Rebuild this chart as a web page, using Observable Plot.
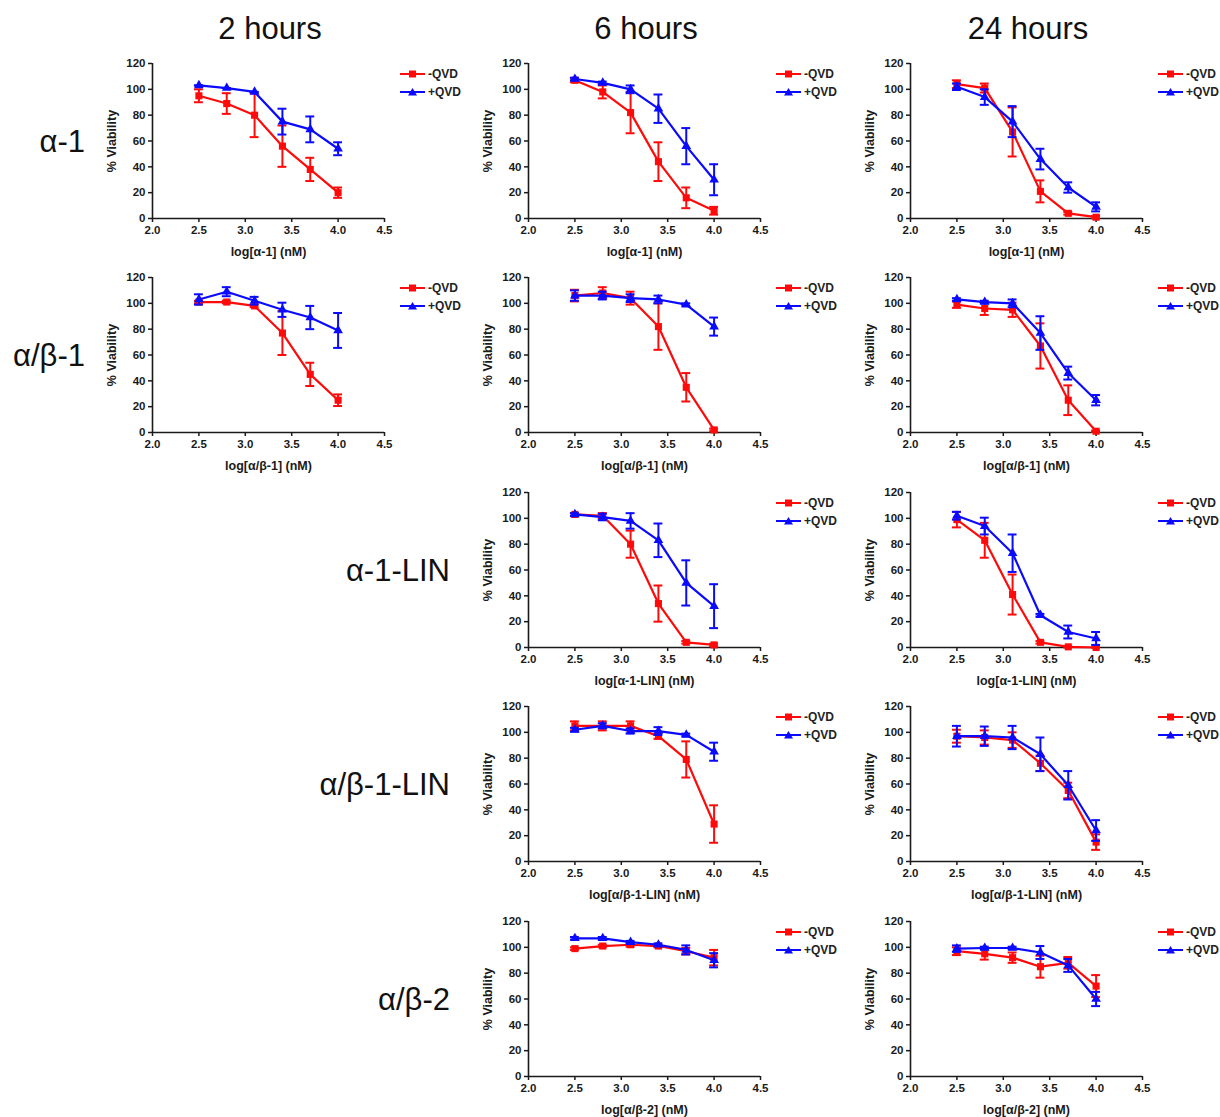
<!DOCTYPE html>
<html><head><meta charset="utf-8">
<script src="https://cdn.jsdelivr.net/npm/d3@7"></script>
<script src="https://cdn.jsdelivr.net/npm/@observablehq/plot@0.6"></script>
<style>
body{margin:0;background:#fff;font-family:"Liberation Sans",Arial,sans-serif;}
#root{position:relative;width:1220px;height:1117px;overflow:hidden;}
.panel{position:absolute;}
.coltitle{position:absolute;font-size:31px;line-height:31px;transform:translateX(-50%);white-space:nowrap;color:#111;}
.rowlabel{position:absolute;font-size:31px;line-height:31px;white-space:nowrap;transform:translate(-100%,-50%);color:#111;}
.legend{position:absolute;font-size:12px;font-weight:bold;color:#222;}
.legend div{display:flex;align-items:center;height:18px;}
.legend svg{margin-right:3px;}
g[aria-label="x-axis label"] text, g[aria-label="y-axis label"] text{font-size:12.5px;}
</style></head><body><div id="root"></div>
<script>
const doses = [2.5, 2.8, 3.1, 3.4, 3.7, 4.0];
const xTicks = [2.0, 2.5, 3.0, 3.5, 4.0, 4.5];
const yTicks = [0, 20, 40, 60, 80, 100, 120];
const times = ["2 hours", "6 hours", "24 hours"];
const compounds = ["α-1", "α/β-1", "α-1-LIN", "α/β-1-LIN", "α/β-2"];
const series = ["-QVD", "+QVD"];
const seriesColors = ["#ff0a0a", "#0a0aff"];
const seriesSymbols = ["square", "triangle"];

// α-1, 2 h
const a1_2h_minus = [95, 89, 80, 56, 38, 20];
const a1_2h_minusErr = [5, 8, 17, 16, 9, 4];
const a1_2h_plus = [103, 101, 98, 75, 69, 54];
const a1_2h_plusErr = [0, 0, 0, 10, 10, 5];
// α-1, 6 h
const a1_6h_minus = [107, 98, 82, 44, 16, 6];
const a1_6h_minusErr = [1.5, 5, 16, 15, 8, 3];
const a1_6h_plus = [108, 105, 100, 85, 56, 30];
const a1_6h_plusErr = [1, 1, 3, 11, 14, 12];
// α-1, 24 h
const a1_24h_minus = [104, 101, 67, 21, 4, 1];
const a1_24h_minusErr = [3, 3.5, 19, 8.5, 1, 1];
const a1_24h_plus = [102, 94, 75, 46, 24, 9];
const a1_24h_plusErr = [2.5, 6, 12, 8, 4, 3.5];
// α/β-1, 2 h
const ab1_2h_minus = [101, 101, 98, 77, 45, 25];
const ab1_2h_minusErr = [1, 1, 1, 17, 9, 4.5];
const ab1_2h_plus = [103, 109, 102, 95, 89, 79];
const ab1_2h_plusErr = [4, 3.5, 3, 5.5, 9, 13.5];
// α/β-1, 6 h
const ab1_6h_minus = [106, 108, 104, 82, 35, 2];
const ab1_6h_minusErr = [4.5, 4.5, 5, 18, 11, 1];
const ab1_6h_plus = [106, 106, 104, 103, 99, 82];
const ab1_6h_plusErr = [4, 3, 3, 3, 1, 7];
// α/β-1, 24 h
const ab1_24h_minus = [99, 96, 95, 67, 25, 1];
const ab1_24h_minusErr = [2.5, 5, 5.5, 17.5, 11.5, 0.5];
const ab1_24h_plus = [103, 101, 100, 77, 46, 25];
const ab1_24h_plusErr = [1, 1, 3, 13, 5, 4];
// α-1-LIN, 6 h
const a1lin_6h_minus = [103, 102, 80, 34, 4, 2];
const a1lin_6h_minusErr = [1, 2, 10.5, 14, 1, 1];
const a1lin_6h_plus = [103, 101, 98, 83, 50, 32];
const a1lin_6h_plusErr = [1, 2.5, 6, 13, 17.5, 17];
// α-1-LIN, 24 h
const a1lin_24h_minus = [99, 83, 41, 4, 0.5, 0];
const a1lin_24h_minusErr = [6, 13.5, 15.5, 1, 0.5, 0];
const a1lin_24h_plus = [102, 94, 73, 25, 12, 7];
const a1lin_24h_plusErr = [3, 6.5, 14.5, 1, 5, 5];
// α/β-1-LIN, 6 h
const ab1lin_6h_minus = [105, 105, 105, 97, 79, 29];
const ab1lin_6h_minusErr = [3.5, 3.5, 3.5, 2, 14, 14.5];
const ab1lin_6h_plus = [102, 105, 101, 101, 98, 85];
const ab1lin_6h_plusErr = [1.5, 2, 2, 3, 1, 7];
// α/β-1-LIN, 24 h
const ab1lin_24h_minus = [97, 96, 94, 76, 55, 15];
const ab1lin_24h_minusErr = [5, 5.5, 6, 6, 6, 6];
const ab1lin_24h_plus = [97, 97, 96, 83, 59, 24];
const ab1lin_24h_plusErr = [8, 7.5, 9, 13, 11, 8];
// α/β-2, 6 h
const ab2_6h_minus = [99, 101, 102, 101, 97, 92];
const ab2_6h_minusErr = [1, 1, 1.5, 1, 2.5, 6];
const ab2_6h_plus = [107, 107, 104, 102, 98, 90];
const ab2_6h_plusErr = [1, 1, 1, 1, 3.5, 5.5];
// α/β-2, 24 h
const ab2_24h_minus = [97, 95, 92, 85, 88, 70];
const ab2_24h_minusErr = [3, 4.5, 4, 8.5, 4.5, 8.5];
const ab2_24h_plus = [99, 99.5, 99.5, 96, 86, 60];
const ab2_24h_plusErr = [2.5, 1, 1, 5, 5, 5.5];

const panels = [
  {row: 0, col: 0, minus: a1_2h_minus, minusErr: a1_2h_minusErr, plus: a1_2h_plus, plusErr: a1_2h_plusErr},
  {row: 0, col: 1, minus: a1_6h_minus, minusErr: a1_6h_minusErr, plus: a1_6h_plus, plusErr: a1_6h_plusErr},
  {row: 0, col: 2, minus: a1_24h_minus, minusErr: a1_24h_minusErr, plus: a1_24h_plus, plusErr: a1_24h_plusErr},
  {row: 1, col: 0, minus: ab1_2h_minus, minusErr: ab1_2h_minusErr, plus: ab1_2h_plus, plusErr: ab1_2h_plusErr},
  {row: 1, col: 1, minus: ab1_6h_minus, minusErr: ab1_6h_minusErr, plus: ab1_6h_plus, plusErr: ab1_6h_plusErr},
  {row: 1, col: 2, minus: ab1_24h_minus, minusErr: ab1_24h_minusErr, plus: ab1_24h_plus, plusErr: ab1_24h_plusErr},
  {row: 2, col: 1, minus: a1lin_6h_minus, minusErr: a1lin_6h_minusErr, plus: a1lin_6h_plus, plusErr: a1lin_6h_plusErr},
  {row: 2, col: 2, minus: a1lin_24h_minus, minusErr: a1lin_24h_minusErr, plus: a1lin_24h_plus, plusErr: a1lin_24h_plusErr},
  {row: 3, col: 1, minus: ab1lin_6h_minus, minusErr: ab1lin_6h_minusErr, plus: ab1lin_6h_plus, plusErr: ab1lin_6h_plusErr},
  {row: 3, col: 2, minus: ab1lin_24h_minus, minusErr: ab1lin_24h_minusErr, plus: ab1lin_24h_plus, plusErr: ab1lin_24h_plusErr},
  {row: 4, col: 1, minus: ab2_6h_minus, minusErr: ab2_6h_minusErr, plus: ab2_6h_plus, plusErr: ab2_6h_plusErr},
  {row: 4, col: 2, minus: ab2_24h_minus, minusErr: ab2_24h_minusErr, plus: ab2_24h_plus, plusErr: ab2_24h_plusErr}
];

// layout
const colAxisX = [152, 528, 910];
const rowTopY = [63, 277, 492, 706, 921];
const W = 232, H = 155, ML = 60, MT = 10, MB = 48, MR = 10;
const rowLabelRight = [85, 85, 450, 450, 450];
const AX = "#1a1a1a";

const root = document.getElementById("root");

times.forEach((t, c) => {
  const d = document.createElement("div");
  d.className = "coltitle";
  d.textContent = t;
  d.style.left = (colAxisX[c] + W / 2 + 2) + "px";
  d.style.top = "13px";
  root.appendChild(d);
});

compounds.forEach((name, r) => {
  const d = document.createElement("div");
  d.className = "rowlabel";
  d.textContent = name;
  d.style.left = rowLabelRight[r] + "px";
  d.style.top = (rowTopY[r] + H / 2) + "px";
  root.appendChild(d);
});

function seriesMarks(rows, color, symbol) {
  return [
    Plot.ruleX(rows, {x: "dose", y1: "lo", y2: "hi", stroke: color, strokeWidth: 2}),
    Plot.ruleY(rows, {y: "lo", x1: d => d.dose - 0.048, x2: d => d.dose + 0.048, stroke: color, strokeWidth: 2}),
    Plot.ruleY(rows, {y: "hi", x1: d => d.dose - 0.048, x2: d => d.dose + 0.048, stroke: color, strokeWidth: 2}),
    Plot.line(rows, {x: "dose", y: "v", stroke: color, strokeWidth: 2.2}),
    Plot.dot(rows, {x: "dose", y: "v", symbol: symbol, fill: color, stroke: "none", r: symbol === "square" ? 4 : 3.6})
  ];
}

panels.forEach(p => {
  const compound = compounds[p.row];
  const sets = [[p.minus, p.minusErr], [p.plus, p.plusErr]];
  const marks = [
    Plot.ruleY([0], {stroke: AX, strokeWidth: 1.6}),
    Plot.ruleX([2], {stroke: AX, strokeWidth: 1.6}),
    Plot.axisX({ticks: xTicks, tickFormat: d3.format(".1f"), tickSize: 4, tickPadding: 3, strokeWidth: 1.5, stroke: AX, fill: AX,
      fontSize: 11.5, label: `log[${compound}] (nM)`, labelAnchor: "center", labelOffset: 37, labelArrow: false}),
    Plot.axisY({ticks: yTicks, tickSize: 4, tickPadding: 3, strokeWidth: 1.5, stroke: AX, fill: AX,
      fontSize: 11.5, label: "% Viability", labelAnchor: "center", labelOffset: 45, labelArrow: false})
  ];
  sets.forEach(([m, e], si) => {
    const rows = doses.map((d, i) => ({dose: d, v: m[i], lo: m[i] - e[i], hi: m[i] + e[i]}));
    marks.push(...seriesMarks(rows, seriesColors[si], seriesSymbols[si]));
  });
  const chart = Plot.plot({
    width: ML + W + MR, height: MT + H + MB,
    marginLeft: ML, marginRight: MR, marginTop: MT, marginBottom: MB,
    x: {domain: [2, 4.5], axis: null},
    y: {domain: [0, 120], axis: null},
    style: {fontFamily: "'Liberation Sans', Arial, sans-serif", fontSize: "11.5px", fontWeight: "bold", color: AX, background: "transparent", overflow: "visible"},
    marks
  });
  chart.querySelectorAll('g[aria-label$="axis label"] text').forEach(t => {
    t.textContent = t.textContent.replace(/\s*[↑→↓←]\s*/g, "");
  });
  const wrap = document.createElement("div");
  wrap.className = "panel";
  wrap.style.left = (colAxisX[p.col] - ML) + "px";
  wrap.style.top = (rowTopY[p.row] - MT) + "px";
  wrap.appendChild(chart);
  root.appendChild(wrap);

  const lg = document.createElement("div");
  lg.className = "legend";
  lg.style.left = (colAxisX[p.col] + 248) + "px";
  lg.style.top = (rowTopY[p.row] + 2) + "px";
  series.forEach((s, si) => {
    const item = document.createElement("div");
    const sym = si === 0
      ? `<rect x="9" y="1.5" width="7" height="7" fill="${seriesColors[si]}"/>`
      : `<path d="M12.5,1 L17,8.5 L8,8.5 Z" fill="${seriesColors[si]}"/>`;
    item.innerHTML = `<svg width="25" height="10"><line x1="0" x2="25" y1="5" y2="5" stroke="${seriesColors[si]}" stroke-width="2"/>${sym}</svg><span>${s}</span>`;
    lg.appendChild(item);
  });
  root.appendChild(lg);
});
</script></body></html>
